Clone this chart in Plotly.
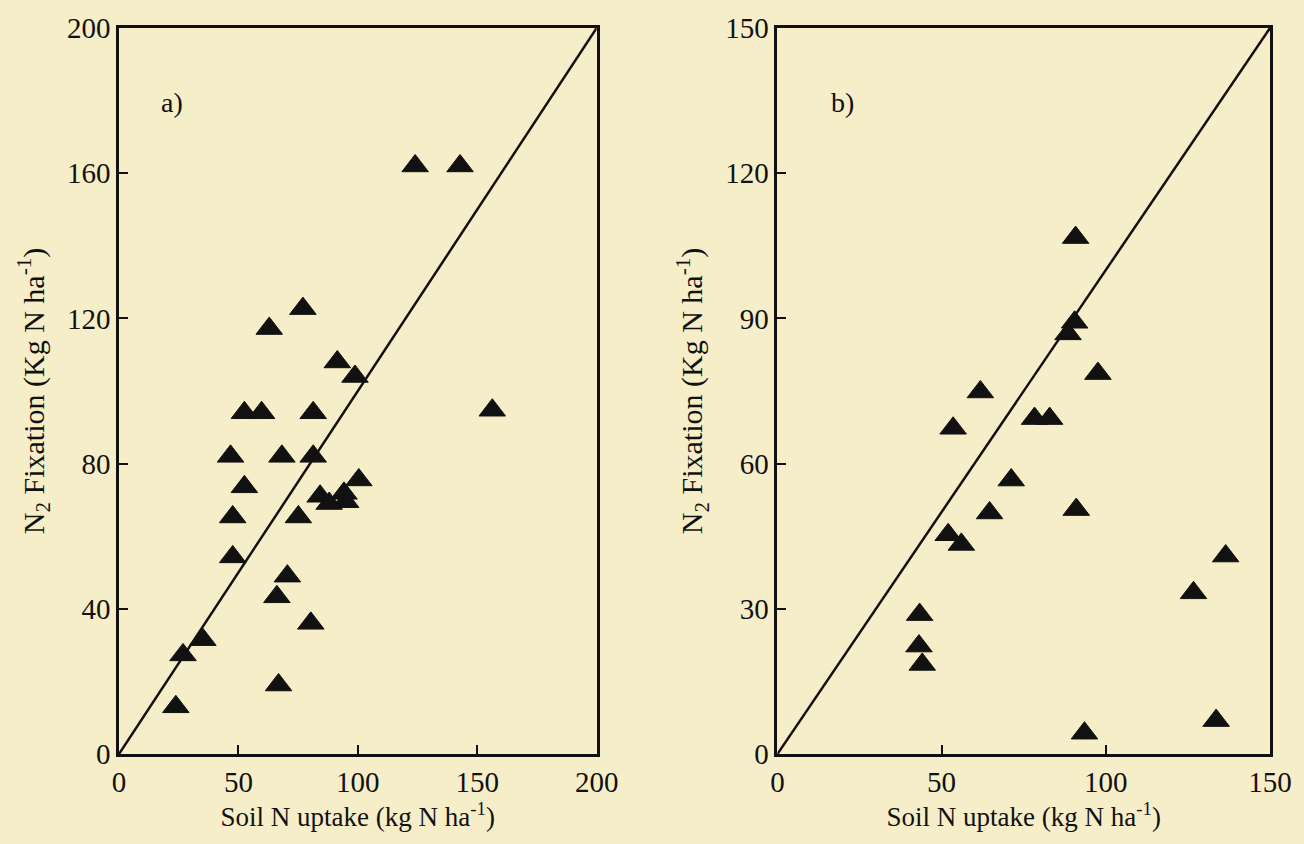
import plotly.graph_objects as go

# Panel a) data
a_soil_n = [124, 142.8, 77, 62.9, 91.4, 98.8, 52.5, 59.7, 81.3, 156.3, 46.7, 68.2, 81.3, 52.5,
            100.4, 84.2, 88, 94.2, 94.9, 75.1, 47.6, 47.6, 70.5, 66.1, 80.3, 35.1, 26.8, 66.8, 23.8]
a_n2_fix = [162, 162, 122.7, 117.2, 108, 104, 94, 94, 94, 94.7, 82, 82, 82, 73.6,
            75.5, 71, 69, 71.8, 69.5, 65.3, 65.3, 54.3, 49, 43.3, 36, 31.5, 27.3, 19, 13]

# Panel b) data
b_soil_n = [90.8, 90.5, 88.5, 97.6, 61.8, 53.5, 78.3, 82.9, 71.2, 64.6, 91, 52, 56,
            136.5, 126.7, 43.3, 43.1, 44.1, 133.6, 93.5]
b_n2_fix = [106.7, 89.2, 86.8, 78.6, 74.8, 67.3, 69.3, 69.3, 56.6, 49.8, 50.5, 45.3, 43.3,
            40.9, 33.3, 28.8, 22.3, 18.5, 6.9, 4.3]

a_max = 200
b_max = 150
a_ticks = [0, 50, 100, 150, 200]
a_yticks = [0, 40, 80, 120, 160, 200]
b_ticks = [0, 50, 100, 150]
b_yticks = [0, 30, 60, 90, 120, 150]

BG = "#F6EEC8"
INK = "#111111"
FONT = "Liberation Serif"

fig = go.Figure()
marker = dict(symbol="triangle-up", size=23, color=INK, line=dict(color=INK, width=1))

fig.add_trace(go.Scatter(x=[0, a_max], y=[0, a_max], mode="lines",
                         line=dict(color=INK, width=2.5), xaxis="x", yaxis="y", showlegend=False))
fig.add_trace(go.Scatter(x=a_soil_n, y=a_n2_fix, mode="markers", marker=marker,
                         xaxis="x", yaxis="y", showlegend=False))
fig.add_trace(go.Scatter(x=[0, b_max], y=[0, b_max], mode="lines",
                         line=dict(color=INK, width=2.5), xaxis="x2", yaxis="y2", showlegend=False))
fig.add_trace(go.Scatter(x=b_soil_n, y=b_n2_fix, mode="markers", marker=marker,
                         xaxis="x2", yaxis="y2", showlegend=False))

xtitle = "Soil N uptake (kg N ha<sup>-1</sup>)"
ytitle = "N<sub>2</sub> Fixation (Kg N ha<sup>-1</sup>)"

common = dict(showline=True, linecolor=INK, linewidth=2.5, mirror=True, showgrid=False,
              zeroline=False, ticks="inside", ticklen=9, tickwidth=2, tickcolor=INK,
              tickfont=dict(family=FONT, size=29, color=INK))

W, H = 1304, 844
ml, mr, mt, mb = 119, 26, 25, 90
pw = W - ml - mr
dom_a = [0, (600 - ml) / pw]
dom_b = [(782 - ml) / pw, 1]

xt_font = dict(family=FONT, size=27, color=INK)
yt_font = dict(family=FONT, size=30, color=INK)

fig.update_layout(
    width=W, height=H,
    margin=dict(l=ml, r=mr, t=mt, b=mb),
    paper_bgcolor=BG, plot_bgcolor=BG,
    xaxis=dict(domain=dom_a, range=[0, a_max], tickvals=a_ticks, anchor="y",
               title=dict(text=xtitle, font=xt_font, standoff=4), **common),
    yaxis=dict(domain=[0, 1], range=[0, a_max], tickvals=a_yticks, anchor="x",
               title=dict(text=ytitle, font=yt_font, standoff=14), **common),
    xaxis2=dict(domain=dom_b, range=[0, b_max], tickvals=b_ticks, anchor="y2",
                title=dict(text=xtitle, font=xt_font, standoff=4), **common),
    yaxis2=dict(domain=[0, 1], range=[0, b_max], tickvals=b_yticks, anchor="x2",
                title=dict(text=ytitle, font=yt_font, standoff=14), **common),
    annotations=[
        dict(text="a)", xref="x domain", yref="y domain", x=0.11, y=0.897, showarrow=False,
             xanchor="center", yanchor="middle", font=dict(family=FONT, size=28, color=INK)),
        dict(text="b)", xref="x2 domain", yref="y2 domain", x=0.132, y=0.897, showarrow=False,
             xanchor="center", yanchor="middle", font=dict(family=FONT, size=28, color=INK)),
    ],
)

fig.write_html("out.html", config={"displayModeBar": False},
               post_script="document.body.style.margin='0';")
